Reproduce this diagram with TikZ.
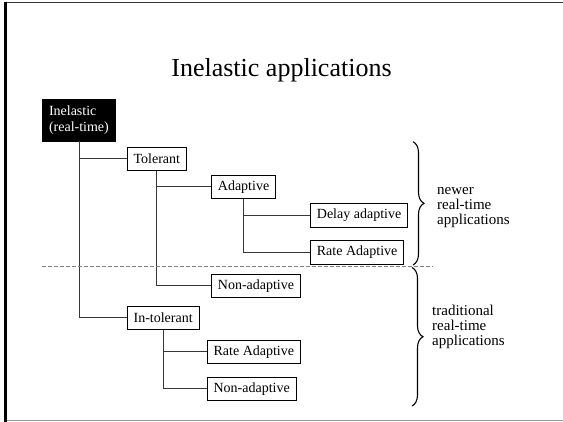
\documentclass[tikz,border=0pt]{standalone}
\usepackage{fontspec}
\setmainfont{Liberation Serif}
\usepackage{tikz}
\usetikzlibrary{positioning,calc}
\usetikzlibrary{decorations.pathreplacing}
\definecolor{LinkGray}{RGB}{55,55,55}
\definecolor{CutGray}{RGB}{130,130,130}
\definecolor{FrameGray}{RGB}{150,150,150}
\tikzset{
	leaf/.style={draw=black,fill=white,line width=0.8pt,inner xsep=6.5pt,inner ysep=0pt,
		minimum height=23.5pt,font=\fontsize{14}{16}\selectfont,anchor=west},
	root/.style={draw=black,fill=black,text=white,inner xsep=6.5pt,inner ysep=0pt,
		minimum width=73pt,minimum height=41.5pt,align=left,anchor=north west,
		font=\fontsize{14}{16.5}\selectfont,text width=60pt},
	link/.style={draw=LinkGray,line width=1pt},
	split/.style={draw=CutGray,line width=1pt,dash pattern=on 4pt off 2pt},
	curly/.style={decorate,decoration={brace,amplitude=11pt},line width=1.1pt},
	note/.style={align=left,anchor=west,inner xsep=0pt,font=\fontsize{15}{15}\selectfont},
}
\begin{document}
\begin{tikzpicture}[x=1pt,y=-1pt]
			\useasboundingbox (0,0) rectangle (563,422);
			% slide frame
			\draw[line width=1.5pt,LinkGray] (5,2.5) -- (563,2.5);
			\draw[line width=1.5pt,FrameGray] (5,420.5) -- (563,420.5);
			\draw[line width=2.2pt,black] (5.5,1.8) -- (5.5,422);
			\node[font=\fontsize{26}{30}\selectfont,anchor=base] (title) at (281.5,77) {Inelastic applications};
			% tree
			\node[root] (inel) at (42.3,99.3) {Inelastic\\(real-time)};
			\node[leaf] (tol) at (126.7,158.7) {Tolerant};
			\node[leaf] (adap) at (211,187) {Adaptive};
			\node[leaf] (delay) at (310,215.5) {Delay adaptive};
			\node[leaf] (rate) at (310,252.5) {Rate Adaptive};
			\node[leaf] (nonad) at (211,285.8) {Non-adaptive};
			\node[leaf] (intol) at (126.7,318) {In-tolerant};
			\node[leaf] (irate) at (206.7,351.7) {Rate Adaptive};
			\node[leaf] (inonad) at (206.7,389) {Non-adaptive};
			\foreach \u/\v in {inel/tol,inel/intol,tol/adap,tol/nonad,adap/delay,adap/rate,intol/irate,intol/inonad}
			\draw[link] (\u.south) |- (\v.west);
			% newer / traditional cut
			\coordinate (cutL) at (41.7,266.5);
			\coordinate (cutR) at (432,266.5);
			\draw[split] (cutL) -- (cutR);
			\coordinate (newT) at (413,141.7); \coordinate (newB) at (413,265);
			\coordinate (oldT) at (412,267.5); \coordinate (oldB) at (412,406);
			\draw[curly] (newT) -- (newB);
			\draw[curly] (oldT) -- (oldB);
			\node[note] (newer) at (437,208) {newer\\real-time\\applications};
			\node[note] (trad) at (432,327) {traditional\\real-time\\applications};
		\end{tikzpicture}
\end{document}
